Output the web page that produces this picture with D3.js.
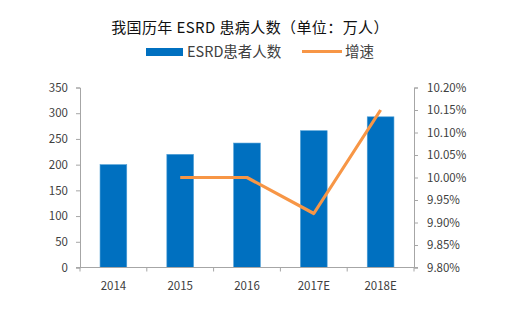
<!DOCTYPE html>
<html>
<head>
<meta charset="utf-8">
<script src="https://cdn.jsdelivr.net/npm/d3@7"></script>
<style>
  body { margin: 0; background: #fff; }
  svg { display: block; }
</style>
</head>
<body>
<svg id="chart" width="517" height="322"></svg>
<script>
// ESRD patients by year (10k people) and growth rate (%)
const years = ['2014', '2015', '2016', '2017E', '2018E'];
const patients = [200, 220, 242, 266, 293];
const growthYears = ['2015', '2016', '2017E', '2018E'];
const growth = [10.00, 10.00, 9.92, 10.15];
const leftTicks = [0, 50, 100, 150, 200, 250, 300, 350];
const rightTicks = [9.80, 9.85, 9.90, 9.95, 10.00, 10.05, 10.10, 10.15, 10.20];

const svg = d3.select('#chart');
const font = '"Noto Sans CJK SC", "Noto Sans", sans-serif';
const axisColor = '#a6a6a6';
const labelColor = '#404040';

const plot = { left: 80, right: 414, top: 87.5, bottom: 267.5 };

const x = d3.scaleBand()
  .domain(years)
  .range([plot.left, plot.right]);

const y = d3.scaleLinear()
  .domain([0, 350])
  .range([plot.bottom, plot.top]);

const y2 = d3.scaleLinear()
  .domain([9.80, 10.20])
  .range([plot.bottom, plot.top]);

// Title
svg.append('text')
  .attr('x', 250)
  .attr('y', 33)
  .attr('text-anchor', 'middle')
  .style('font-family', font)
  .style('font-size', '15px')
  .style('letter-spacing', '0.4px')
  .style('fill', '#111')
  .text('我国历年 ESRD 患病人数（单位：万人）');

// Legend
const legend = svg.append('g').style('font-family', font).style('font-size', '14.5px');
legend.append('rect')
  .attr('x', 146).attr('y', 48).attr('width', 37).attr('height', 8)
  .attr('fill', '#0070c0');
legend.append('text')
  .attr('x', 187).attr('y', 57)
  .style('fill', labelColor)
  .text('ESRD患者人数');
legend.append('line')
  .attr('x1', 302).attr('x2', 342).attr('y1', 51.5).attr('y2', 51.5)
  .attr('stroke', '#f79646').attr('stroke-width', 3);
legend.append('text')
  .attr('x', 345).attr('y', 57)
  .style('fill', labelColor)
  .text('增速');

// Bars
const barW = x.step() * 0.4;
svg.append('g')
  .selectAll('rect')
  .data(years.map((d, i) => ({ year: d, value: patients[i] })))
  .join('rect')
  .attr('x', d => x(d.year) + (x.step() - barW) / 2)
  .attr('y', d => y(d.value))
  .attr('width', barW)
  .attr('height', d => y(0) - y(d.value))
  .attr('fill', '#0070c0')
  .attr('stroke', '#4f9fd6')
  .attr('stroke-width', 0.6);

// Axes
function styleAxis(g) {
  g.selectAll('path, line').attr('stroke', axisColor);
  g.selectAll('text')
    .style('font-family', font)
    .style('font-size', '11.5px')
    .style('fill', labelColor);
}

svg.append('g')
  .attr('transform', `translate(${plot.left},0)`)
  .call(d3.axisLeft(y).tickValues(leftTicks).tickSize(4).tickSizeOuter(4).tickPadding(8))
  .call(styleAxis);

svg.append('g')
  .attr('transform', `translate(${plot.right},0)`)
  .call(d3.axisRight(y2).tickValues(rightTicks).tickSize(4).tickSizeOuter(4).tickPadding(9)
    .tickFormat(d => d.toFixed(2) + '%'))
  .call(styleAxis);

const xAxis = svg.append('g')
  .attr('transform', `translate(0,${plot.bottom})`)
  .call(d3.axisBottom(x).tickSize(0).tickSizeOuter(0).tickPadding(14))
  .call(styleAxis);
xAxis.select('.domain').attr('d', `M${plot.left - 4},0H${plot.right + 4}`);
xAxis.selectAll('.sep')
  .data(d3.range(years.length + 1))
  .join('line')
  .attr('class', 'sep')
  .attr('x1', i => plot.left + i * x.step())
  .attr('x2', i => plot.left + i * x.step())
  .attr('y1', 0).attr('y2', 4)
  .attr('stroke', axisColor);

// Growth line
const line = d3.line()
  .x((d, i) => x(growthYears[i]) + x.bandwidth() / 2)
  .y(d => y2(d));

svg.append('path')
  .datum(growth)
  .attr('d', line)
  .attr('fill', 'none')
  .attr('stroke', '#f79646')
  .attr('stroke-width', 3.2)
  .attr('stroke-linejoin', 'round');
</script>
</body>
</html>
